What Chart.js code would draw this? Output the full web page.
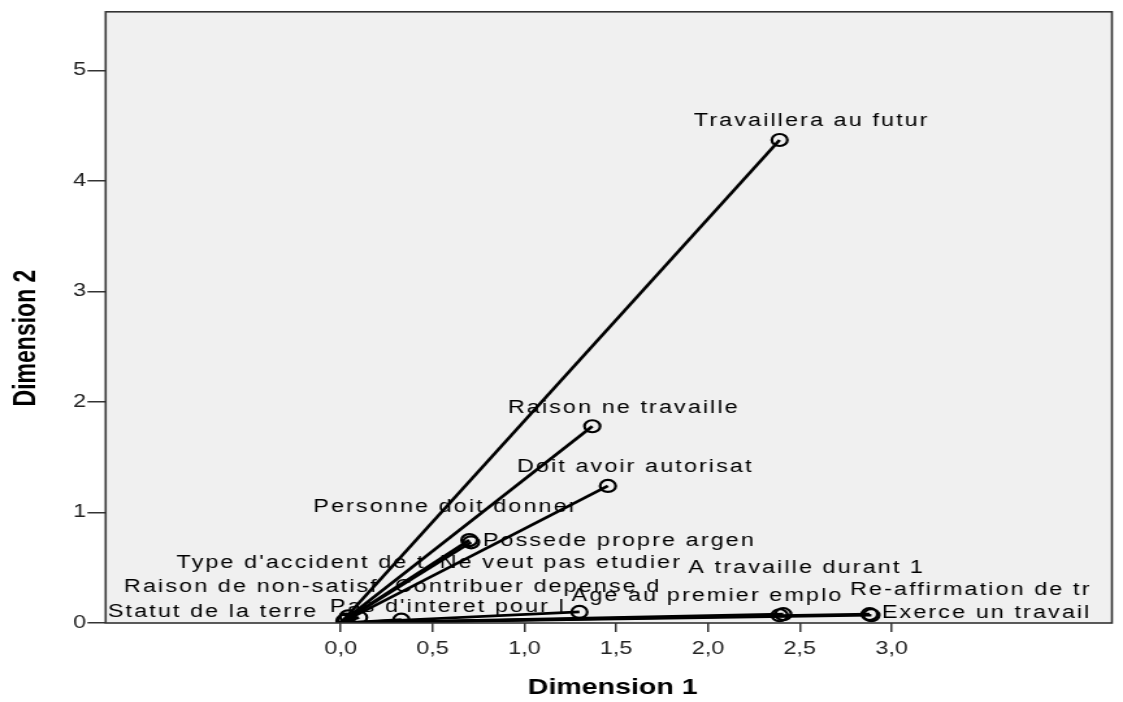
<!DOCTYPE html>
<html>
<head>
<meta charset="utf-8">
<script src="https://cdn.jsdelivr.net/npm/chart.js@4"></script>
<style>
  html, body { margin: 0; background: #fff; }
</style>
</head>
<body>
<!-- the SPSS picture is stretched sideways, so the canvas is drawn narrow and widened by css -->
<canvas id="chart" width="864" height="702" style="width:1123px;height:702px;display:block"></canvas>
<script>
// discrimination measures
var variables = [
   'Travaillera au futur', 'Raison ne travaille', 'Doit avoir autorisat',
   'Possede propre argen', 'Personne doit donner', "Type d'accident de t",
   'Ne veut pas etudier', 'Raison de non-satisf', 'Contribuer depense d',
   'Statut de la terre', "Pas d'interet pour l", 'A travaille durant 1',
   'Age au premier emplo', 'Re-affirmation de tr', 'Exerce un travail'
];
var dim1 = [2.39, 1.37, 1.455, 0.71, 0.70, 0.04, 0.10, 0.03, 0.33, 0.02, 1.30, 2.41, 2.39, 2.88, 2.89];
var dim2 = [4.37, 1.78, 1.24, 0.73, 0.75, 0.06, 0.05, 0.03, 0.03, 0.02, 0.10, 0.08, 0.07, 0.08, 0.07];

var xTicks = [0, 0.5, 1, 1.5, 2, 2.5, 3];
var yTicks = [0, 1, 2, 3, 4, 5];

// where each label sits, relative to its point (canvas px, left aligned)
var labelOffsets = [
   [-66, -19], [-65, -18], [-70, -19], [9, -1], [-120, -33],
   [-132, -53], [62, -54], [-171, -33], [-5, -33], [-182, -9],
   [-192, -5], [-73, -46], [-160, -19], [-15, -24], [8, -2]
];

var datasets = [];
for (var i = 0; i < variables.length; i++) {
   datasets.push({
      label: variables[i],
      data: [{x: 0, y: 0}, {x: dim1[i], y: dim2[i]}],
      showLine: true,
      borderColor: '#000',
      borderWidth: 2.7,
      pointRadius: [0, 6],
      pointBorderWidth: 2.2,
      pointBorderColor: '#000',
      pointBackgroundColor: 'rgba(0,0,0,0)'
   });
}

var plotFrame = {
   id: 'plotFrame',
   beforeDraw: function (chart) {
      var a = chart.chartArea, ctx = chart.ctx;
      ctx.save();
      ctx.fillStyle = '#f0f0f0';
      ctx.fillRect(a.left, a.top, a.right - a.left, a.bottom - a.top);
      ctx.restore();
   },
   afterDatasetsDraw: function (chart) {
      var a = chart.chartArea, ctx = chart.ctx;
      ctx.save();
      ctx.font = '18px "Liberation Sans", Arial, sans-serif';
      ctx.letterSpacing = '1.6px';
      ctx.fillStyle = '#000';
      ctx.textAlign = 'left';
      ctx.textBaseline = 'middle';
      for (var i = 0; i < variables.length; i++) {
         var pt = chart.getDatasetMeta(i).data[1];
         ctx.fillText(variables[i], pt.x + labelOffsets[i][0], pt.y + labelOffsets[i][1]);
      }
      ctx.letterSpacing = '0px';
      ctx.strokeStyle = '#333';
      ctx.lineWidth = 1.6;
      ctx.strokeRect(a.left, a.top, a.right - a.left, a.bottom - a.top);
      ctx.restore();
   },
   afterDraw: function (chart) {
      var a = chart.chartArea, ctx = chart.ctx;
      ctx.save();
      ctx.fillStyle = '#000';
      ctx.font = 'bold 22px "Liberation Sans", Arial, sans-serif';
      ctx.textAlign = 'center';
      ctx.textBaseline = 'middle';
      ctx.fillText('Dimension 1', (a.left + a.right) / 2 + 3, 688);
      ctx.font = 'bold 23px "Liberation Sans", Arial, sans-serif';
      ctx.translate(21, 338);
      ctx.rotate(-Math.PI / 2);
      ctx.fillText('Dimension 2', 0, 0);
      ctx.restore();
   }
};

var tickFont = {family: '"Liberation Sans", Arial, sans-serif', size: 18};

var ctx = document.getElementById('chart').getContext('2d');
var chart = new Chart(ctx, {
   type: 'scatter',
   data: { datasets: datasets },
   options: {
      responsive: false,
      devicePixelRatio: 1,
      animation: false,
      events: [],
      layout: { padding: { top: 8, right: 8.5, left: 0, bottom: 0 } },
      plugins: {
         legend: { display: false },
         tooltip: { enabled: false }
      },
      scales: {
         x: {
            type: 'linear',
            min: -1.28,
            max: 4.2,
            afterBuildTicks: function (s) { s.ticks = xTicks.map(function (v) { return {value: v}; }); },
            afterFit: function (s) { s.height = 79; },
            ticks: {
               callback: function (v) { return v.toFixed(1).replace('.', ','); },
               font: tickFont,
               color: '#222',
               padding: 6,
               maxRotation: 0,
               autoSkip: false
            },
            grid: { drawOnChartArea: false, tickLength: 9, color: '#333', lineWidth: 1.5 },
            border: { display: false }
         },
         y: {
            type: 'linear',
            min: 0,
            max: 5.53,
            afterBuildTicks: function (s) { s.ticks = yTicks.map(function (v) { return {value: v}; }); },
            afterFit: function (s) { s.width = 81.3; },
            ticks: {
               callback: function (v) { return String(v); },
               font: tickFont,
               color: '#222',
               padding: 1
            },
            grid: { drawOnChartArea: false, tickLength: 14, color: '#333', lineWidth: 1.5 },
            border: { display: false }
         }
      }
   },
   plugins: [plotFrame]
});
</script>
</body>
</html>
